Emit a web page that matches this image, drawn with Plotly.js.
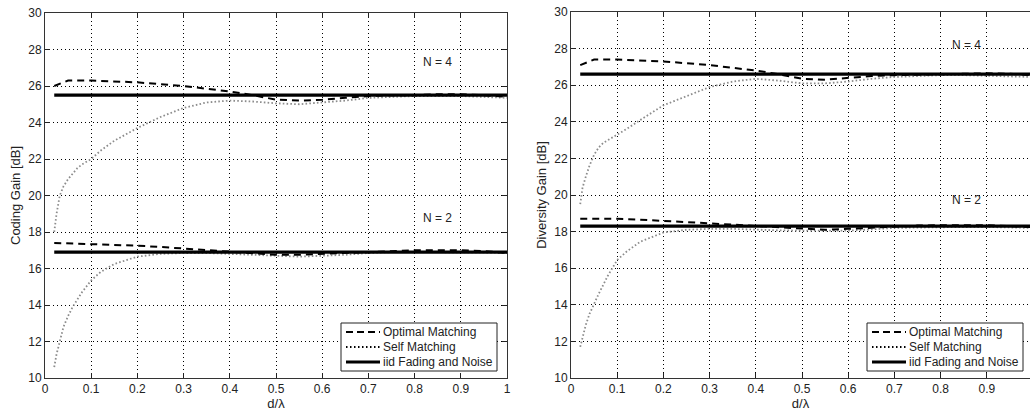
<!DOCTYPE html>
<html><head><meta charset="utf-8">
<script src="https://cdn.plot.ly/plotly-3.0.1.min.js"></script>
<style>html,body{margin:0;padding:0;background:#fff}#chart{width:1030px;height:412px}</style>
</head><body><div id="chart"></div>
<script>
// x positions (d/lambda)
const dOpt = [0.02,0.05,0.1,0.15,0.2,0.25,0.3,0.35,0.4,0.45,0.5,0.55,0.6,0.65,0.7,0.75,0.8,0.85,0.9,0.95,1.0];
const dSelf = [0.02,0.025,0.032,0.04,0.05,0.06,0.07,0.08,0.1,0.12,0.15,0.2,0.25,0.3,0.35,0.4,0.45,0.5,0.55,0.6,0.65,0.7,0.75,0.8,0.85,0.9,0.95,1.0];
const dIid = [0.02, 1.0];

// Left: Coding gain
const cgOptN4 = [26.0,26.3,26.3,26.25,26.2,26.1,26.0,25.85,25.7,25.5,25.25,25.2,25.25,25.35,25.45,25.5,25.5,25.55,25.55,25.5,25.4];
const cgOptN2 = [17.4,17.38,17.35,17.3,17.25,17.18,17.1,17.0,16.92,16.85,16.75,16.75,16.8,16.85,16.9,16.95,17.0,17.0,17.0,16.95,16.85];
const cgSelfN4 = [18.0,19.0,20.0,20.5,20.9,21.2,21.5,21.7,22.0,22.45,23.0,23.7,24.3,24.8,25.1,25.2,25.15,25.05,25.0,25.1,25.2,25.35,25.4,25.45,25.45,25.45,25.4,25.35];
const cgSelfN2 = [10.6,11.3,12.0,12.8,13.4,13.9,14.3,14.7,15.35,15.8,16.25,16.65,16.8,16.85,16.85,16.8,16.75,16.7,16.65,16.7,16.75,16.85,16.9,16.9,16.9,16.9,16.88,16.85];
const cgIidN4 = [25.5, 25.5];
const cgIidN2 = [16.9, 16.9];

// Right: Diversity gain
const dgOptN4 = [27.1,27.4,27.4,27.35,27.3,27.2,27.1,26.95,26.8,26.6,26.35,26.3,26.4,26.5,26.55,26.58,26.6,26.63,26.65,26.62,26.55];
const dgOptN2 = [18.7,18.7,18.7,18.65,18.6,18.52,18.45,18.38,18.3,18.22,18.15,18.1,18.15,18.22,18.3,18.33,18.35,18.35,18.35,18.3,18.25];
const dgSelfN4 = [19.5,20.4,21.0,21.6,22.2,22.6,22.85,23.0,23.3,23.6,24.1,24.9,25.4,25.9,26.2,26.35,26.25,26.1,26.1,26.2,26.35,26.45,26.5,26.55,26.55,26.5,26.48,26.45];
const dgSelfN2 = [11.7,12.2,12.9,13.5,14.1,14.6,15.1,15.6,16.45,16.9,17.45,17.95,18.1,18.15,18.15,18.1,18.07,18.05,18.05,18.05,18.12,18.2,18.22,18.25,18.25,18.25,18.22,18.2];
const dgIidN4 = [26.6, 26.6];
const dgIidN2 = [18.3, 18.3];

const names = ['Optimal Matching','Self Matching','iid Fading and Noise'];
const xTicks = [0,0.1,0.2,0.3,0.4,0.5,0.6,0.7,0.8,0.9,1];
const yTicks = [10,12,14,16,18,20,22,24,26,28,30];

const FONT = 'Liberation Sans, Arial, Helvetica, sans-serif';
const W = 1030, H = 412;
const optLine = {color:'#000', width:2, dash:'7px,5px'};
const selfLine = {color:'#8c8c8c', width:1.8, dash:'1.6px,2.2px'};
const iidLine = {color:'#000', width:3.2};

function set(xa, ya, opt4, opt2, self4, self2, iid4, iid2) {
  const base = {xaxis:xa, yaxis:ya, mode:'lines', showlegend:false};
  return [
    Object.assign({x:dSelf, y:self4, line:selfLine, name:names[1]}, base),
    Object.assign({x:dSelf, y:self2, line:selfLine, name:names[1]}, base),
    Object.assign({x:dOpt, y:opt4, line:optLine, name:names[0]}, base),
    Object.assign({x:dOpt, y:opt2, line:optLine, name:names[0]}, base),
    Object.assign({x:dIid, y:iid4, line:iidLine, name:names[2]}, base),
    Object.assign({x:dIid, y:iid2, line:iidLine, name:names[2]}, base)
  ];
}

const traces = [].concat(
  set('x','y', cgOptN4, cgOptN2, cgSelfN4, cgSelfN2, cgIidN4, cgIidN2),
  set('x2','y2', dgOptN4, dgOptN2, dgSelfN4, dgSelfN2, dgIidN4, dgIidN2)
);

function xax(domain, range, anchor) {
  return {domain:domain, range:range, anchor:anchor, tickvals:xTicks, ticktext:xTicks.map(v=>String(v)),
    ticks:'inside', ticklen:5, tickcolor:'#222', showline:true, linecolor:'#333', linewidth:1, mirror:'ticks',
    showgrid:true, gridcolor:'#000', griddash:'1px,3px', gridwidth:1, zeroline:false,
    tickfont:{family:FONT, size:12, color:'#222'},
    title:{text:'d/λ', font:{family:FONT, size:13, color:'#222'}, standoff:2}};
}
function yax(domain, anchor, title, mirror) {
  return {domain:domain, range:[10,30], tickvals:yTicks, anchor:anchor,
    ticks:'inside', ticklen:5, tickcolor:'#222', showline:true, linecolor:'#333', linewidth:1, mirror:mirror,
    showgrid:true, gridcolor:'#000', griddash:'1px,3px', gridwidth:1, zeroline:false,
    tickfont:{family:FONT, size:12, color:'#222'},
    title:{text:title, font:{family:FONT, size:13, color:'#222'}, standoff:4}};
}

// manual legend boxes (pixel positions converted to paper coords)
const shapes = [], annotations = [];
const px = v => v / W, py = v => 1 - v / H;
[341, 867].forEach(left => {
  shapes.push({type:'rect', xref:'paper', yref:'paper', x0:px(left), x1:px(left+156), y0:py(323), y1:py(371),
    line:{color:'#222', width:1}, fillcolor:'#fff', layer:'above'});
  const rows = [332, 347, 362];
  const styles = [{color:'#000', width:2.2, dash:'7px,4px'}, {color:'#000', width:2, dash:'1.5px,2.5px'}, {color:'#000', width:3}];
  rows.forEach((ry, i) => {
    shapes.push({type:'line', xref:'paper', yref:'paper', x0:px(left+5), x1:px(left+39), y0:py(ry), y1:py(ry),
      line:styles[i], layer:'above'});
    annotations.push({xref:'paper', yref:'paper', x:px(left+40), y:py(ry), xanchor:'left', yanchor:'middle',
      text:names[i], showarrow:false, font:{family:FONT, size:12, color:'#222'}});
  });
});

const lab = {family:FONT, size:12, color:'#222'};
annotations.push(
  {xref:'x', yref:'y', x:0.85, y:27.3, text:'N = 4', showarrow:false, font:lab},
  {xref:'x', yref:'y', x:0.85, y:18.75, text:'N = 2', showarrow:false, font:lab},
  {xref:'x2', yref:'y2', x:0.857, y:28.2, text:'N = 4', showarrow:false, font:lab},
  {xref:'x2', yref:'y2', x:0.857, y:19.75, text:'N = 2', showarrow:false, font:lab}
);

const layout = {
  width:W, height:H, margin:{l:0,r:0,t:0,b:0},
  paper_bgcolor:'#fff', plot_bgcolor:'#fff', showlegend:false,
  xaxis: xax([45/W, 507/W], [0,1], 'y'),
  yaxis: yax([34/H, 399/H], 'x', 'Coding Gain [dB]', 'ticks'),
  xaxis2: xax([571/W, 1], [0, (W-571)/462], 'y2'),
  yaxis2: yax([34/H, 400/H], 'x2', 'Diversity Gain [dB]', false),
  shapes: shapes,
  annotations: annotations
};

Plotly.newPlot('chart', traces, layout, {staticPlot:true, displayModeBar:false});
</script>
</body></html>
